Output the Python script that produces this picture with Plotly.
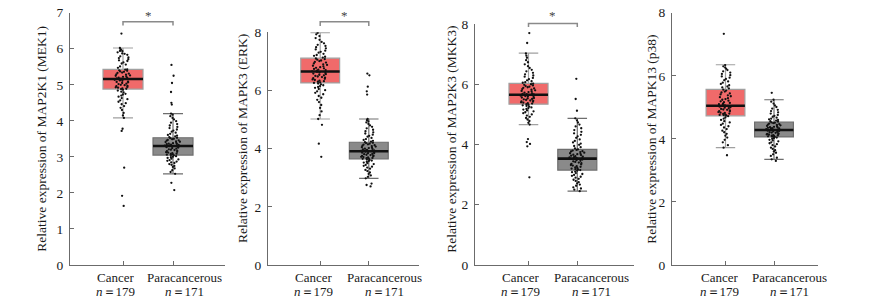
import plotly.graph_objects as go

W, H = 869, 306

# ---------------- data ----------------
categories = ["Cancer", "Paracancerous"]
n_counts = ["179", "171"]
genes = ["MAP2K1 (MEK1)", "MAPK3 (ERK)", "MAP2K3 (MKK3)", "MAPK13 (p38)"]
y_max = [7, 8, 8, 8]
y_dtick = [1, 2, 2, 2]
significant = [True, True, True, False]

# box statistics per panel: [Cancer, Paracancerous]
q1 = [[4.88, 3.05], [6.26, 3.65], [5.34, 3.15], [4.73, 4.06]]
median = [[5.16, 3.30], [6.65, 3.91], [5.65, 3.53], [5.05, 4.28]]
q3 = [[5.43, 3.53], [7.11, 4.22], [6.03, 3.84], [5.57, 4.53]]
lowerfence = [[4.08, 2.53], [5.02, 2.98], [4.66, 2.45], [3.72, 3.35]]
upperfence = [[6.02, 4.20], [7.99, 5.02], [7.03, 4.87], [6.35, 5.24]]

# sample values (estimated from the jittered points)
mek1_cancer = [6.42, 6.02, 5.99, 5.97, 5.94, 5.93, 5.9, 5.87, 5.86, 5.83, 5.79, 5.76, 5.74, 5.71, 5.68, 5.66,
               5.62, 5.59, 5.56, 5.51, 5.47, 5.43, 5.42, 5.4, 5.39, 5.37, 5.36, 5.34, 5.33, 5.31, 5.29, 5.28,
               5.26, 5.25, 5.23, 5.22, 5.2, 5.19, 5.18, 5.17, 5.16, 5.15, 5.14, 5.12, 5.11, 5.09, 5.08, 5.07,
               5.05, 5.03, 5.02, 5.0, 4.99, 4.97, 4.96, 4.94, 4.93, 4.92, 4.9, 4.89, 4.88, 4.86, 4.84, 4.81,
               4.79, 4.75, 4.73, 4.7, 4.67, 4.63, 4.6, 4.57, 4.53, 4.49, 4.46, 4.41, 4.36, 4.3, 4.22, 4.15,
               4.08, 3.78, 3.72, 2.70, 1.92, 1.64]
mek1_para = [5.55, 5.25, 5.05, 4.80, 4.50, 4.45, 4.2, 4.17, 4.13, 4.08, 4.04, 3.99, 3.95, 3.91, 3.87, 3.83,
             3.8, 3.76, 3.73, 3.7, 3.67, 3.64, 3.61, 3.59, 3.57, 3.55, 3.53, 3.52, 3.5, 3.49, 3.47, 3.46,
             3.45, 3.43, 3.42, 3.41, 3.39, 3.38, 3.37, 3.36, 3.35, 3.34, 3.33, 3.32, 3.31, 3.3, 3.29, 3.28,
             3.27, 3.26, 3.24, 3.23, 3.21, 3.2, 3.19, 3.17, 3.16, 3.14, 3.13, 3.12, 3.1, 3.09, 3.08, 3.07,
             3.06, 3.05, 3.04, 3.02, 3.0, 2.99, 2.97, 2.95, 2.93, 2.91, 2.89, 2.87, 2.85, 2.83, 2.8, 2.78,
             2.75, 2.72, 2.68, 2.63, 2.58, 2.53, 2.28, 2.08]
erk_cancer = [7.98, 7.93, 7.87, 7.8, 7.74, 7.67, 7.62, 7.57, 7.53, 7.49, 7.45, 7.41, 7.37, 7.33, 7.3, 7.26,
              7.22, 7.19, 7.16, 7.13, 7.1, 7.08, 7.06, 7.03, 7.01, 6.98, 6.96, 6.93, 6.9, 6.88, 6.85, 6.83,
              6.8, 6.78, 6.76, 6.74, 6.72, 6.7, 6.68, 6.66, 6.64, 6.62, 6.6, 6.58, 6.56, 6.54, 6.52, 6.5,
              6.48, 6.46, 6.44, 6.42, 6.4, 6.38, 6.36, 6.34, 6.32, 6.3, 6.28, 6.26, 6.24, 6.21, 6.18, 6.15,
              6.12, 6.09, 6.05, 6.01, 5.97, 5.92, 5.87, 5.81, 5.75, 5.68, 5.6, 5.5, 5.4, 5.28, 5.15, 5.02,
              4.82, 4.17, 3.72]
erk_para = [6.58, 6.52, 6.13, 5.97, 5.86, 5.02, 4.98, 4.94, 4.9, 4.85, 4.8, 4.75, 4.7, 4.65, 4.6, 4.56,
            4.52, 4.48, 4.44, 4.41, 4.37, 4.33, 4.3, 4.27, 4.24, 4.22, 4.2, 4.19, 4.17, 4.15, 4.14, 4.12,
            4.1, 4.09, 4.07, 4.05, 4.04, 4.02, 4.0, 3.99, 3.97, 3.96, 3.94, 3.93, 3.92, 3.9, 3.89, 3.88,
            3.86, 3.85, 3.84, 3.82, 3.81, 3.79, 3.78, 3.76, 3.75, 3.74, 3.72, 3.71, 3.7, 3.68, 3.67, 3.66,
            3.65, 3.63, 3.61, 3.59, 3.57, 3.55, 3.52, 3.5, 3.47, 3.44, 3.41, 3.38, 3.35, 3.31, 3.27, 3.23,
            3.18, 3.13, 3.08, 3.03, 2.98, 2.80, 2.75, 2.70]
mkk3_cancer = [7.70, 7.37, 7.02, 6.95, 6.88, 6.8, 6.73, 6.66, 6.6, 6.54, 6.48, 6.43, 6.38, 6.33, 6.29, 6.25,
               6.21, 6.17, 6.13, 6.1, 6.07, 6.05, 6.02, 6.0, 5.98, 5.96, 5.94, 5.92, 5.9, 5.88, 5.86, 5.84,
               5.82, 5.8, 5.78, 5.76, 5.74, 5.72, 5.7, 5.68, 5.67, 5.66, 5.64, 5.62, 5.61, 5.59, 5.58, 5.56,
               5.54, 5.53, 5.51, 5.5, 5.48, 5.46, 5.45, 5.43, 5.42, 5.4, 5.39, 5.37, 5.36, 5.34, 5.32, 5.3,
               5.28, 5.26, 5.23, 5.21, 5.18, 5.16, 5.13, 5.1, 5.07, 5.04, 5.0, 4.96, 4.92, 4.88, 4.83, 4.78,
               4.72, 4.66, 4.18, 4.08, 4.02, 3.94, 2.91]
mkk3_para = [6.18, 5.51, 5.12, 4.87, 4.8, 4.73, 4.66, 4.6, 4.54, 4.48, 4.42, 4.37, 4.32, 4.27, 4.22, 4.17,
             4.12, 4.07, 4.03, 3.99, 3.95, 3.91, 3.87, 3.84, 3.82, 3.8, 3.78, 3.77, 3.75, 3.73, 3.71, 3.69,
             3.68, 3.66, 3.65, 3.63, 3.61, 3.6, 3.58, 3.57, 3.56, 3.55, 3.54, 3.52, 3.5, 3.48, 3.46, 3.44,
             3.42, 3.4, 3.38, 3.36, 3.34, 3.32, 3.3, 3.28, 3.26, 3.24, 3.22, 3.2, 3.18, 3.17, 3.15, 3.13,
             3.1, 3.08, 3.05, 3.02, 2.99, 2.96, 2.93, 2.9, 2.86, 2.83, 2.79, 2.75, 2.71, 2.67, 2.63, 2.58,
             2.54, 2.5, 2.45]
p38_cancer = [7.33, 6.34, 6.3, 6.26, 6.22, 6.18, 6.14, 6.1, 6.06, 6.02, 5.98, 5.94, 5.9, 5.86, 5.82, 5.78,
              5.74, 5.7, 5.66, 5.63, 5.6, 5.56, 5.53, 5.5, 5.47, 5.44, 5.41, 5.38, 5.35, 5.32, 5.29, 5.26,
              5.24, 5.21, 5.19, 5.16, 5.14, 5.12, 5.1, 5.08, 5.06, 5.04, 5.02, 5.0, 4.99, 4.97, 4.95, 4.93,
              4.92, 4.9, 4.88, 4.87, 4.85, 4.83, 4.82, 4.8, 4.79, 4.77, 4.76, 4.75, 4.74, 4.72, 4.68, 4.64,
              4.6, 4.56, 4.52, 4.48, 4.44, 4.4, 4.36, 4.31, 4.26, 4.21, 4.16, 4.1, 4.04, 3.97, 3.89, 3.8,
              3.72, 3.48]
p38_para = [5.46, 5.24, 5.18, 5.12, 5.06, 5.01, 4.96, 4.92, 4.88, 4.84, 4.8, 4.76, 4.73, 4.7, 4.67, 4.64,
            4.62, 4.6, 4.58, 4.56, 4.55, 4.52, 4.51, 4.5, 4.48, 4.47, 4.45, 4.44, 4.43, 4.41, 4.4, 4.38,
            4.37, 4.36, 4.35, 4.34, 4.33, 4.32, 4.31, 4.3, 4.29, 4.27, 4.26, 4.25, 4.24, 4.22, 4.21, 4.2,
            4.19, 4.17, 4.16, 4.15, 4.14, 4.13, 4.12, 4.11, 4.1, 4.09, 4.08, 4.07, 4.06, 4.04, 4.02, 4.0,
            3.97, 3.95, 3.92, 3.89, 3.86, 3.83, 3.8, 3.76, 3.72, 3.68, 3.64, 3.6, 3.56, 3.51, 3.46, 3.4,
            3.35, 3.30]

samples = [[mek1_cancer, mek1_para], [erk_cancer, erk_para],
           [mkk3_cancer, mkk3_para], [p38_cancer, p38_para]]

# ---------------- layout geometry (window pixels) ----------------
# axis x0, axis x1, pixel of y_max, pixel of Cancer, pixel spacing between groups
panel_px = [(70, 225, 12.7, 123.0, 50.0),
            (268, 419, 32.3, 320.2, 48.6),
            (475, 634, 24.0, 528.5, 48.8),
            (672, 818, 12.7, 725.5, 48.5)]
# horizontal centres of the category labels
label_px = [(115.0, 184.7), (313.7, 384.2), (520.8, 591.2), (719.0, 789.5)]
y0_px = 265
title_x_px = [41.7, 243.0, 451.7, 651.7]
title_y_px = 139
bracket_px = [(21.7, 25.5), (21.7, 26.0), (23.5, 27.0), None]
star_px = 15
cat_line_px = 277.5
n_line_px = 291.0

FONT = "Liberation Serif"
TXT = "#1a1a1a"
AXC = "#6b6b6b"
fills = ["#F06A6A", "#8A8A8A"]
edges = ["#A0A0A0", "#6E6E6E"]
BOXW = 0.8


def fx(px):
    return px / W


def fy(py):
    return 1 - py / H


fig = go.Figure()
shapes, annotations = [], []

for i in range(4):
    ax = "" if i == 0 else str(i + 1)
    x0, x1, ytop, cpx, sp = panel_px[i]
    r0, r1 = (x0 - cpx) / sp, (x1 - cpx) / sp
    for j in range(2):
        # box with whiskers
        fig.add_trace(go.Box(
            x=[j], q1=[q1[i][j]], median=[median[i][j]], q3=[q3[i][j]],
            lowerfence=[lowerfence[i][j]], upperfence=[upperfence[i][j]],
            fillcolor=fills[j], line=dict(color=edges[j], width=1.2),
            whiskerwidth=0.5, width=BOXW, boxpoints=False,
            xaxis="x" + ax, yaxis="y" + ax, showlegend=False, hoverinfo="skip"))
        # thick black median line
        fig.add_trace(go.Box(
            x=[j], q1=[median[i][j]], median=[median[i][j]], q3=[median[i][j]],
            lowerfence=[median[i][j]], upperfence=[median[i][j]],
            fillcolor="rgba(0,0,0,0)", line=dict(color="#111111", width=2.6),
            whiskerwidth=0, width=BOXW, boxpoints=False,
            xaxis="x" + ax, yaxis="y" + ax, showlegend=False, hoverinfo="skip"))
        # jittered sample points
        vals = samples[i][j]
        fig.add_trace(go.Box(
            x=[j] * len(vals), y=vals, boxpoints="all", jitter=0.42, pointpos=0,
            fillcolor="rgba(0,0,0,0)", line=dict(color="rgba(0,0,0,0)", width=0),
            marker=dict(color="#111111", size=2.3), width=BOXW,
            xaxis="x" + ax, yaxis="y" + ax, showlegend=False))

    fig.update_layout(**{
        "xaxis" + ax: dict(domain=[fx(x0), fx(x1)], range=[r0, r1], anchor="y" + ax,
                           tickvals=[0, 1], showticklabels=False, ticks="inside", ticklen=4,
                           tickcolor=AXC, showline=True, linecolor=AXC, linewidth=1,
                           showgrid=False, zeroline=False, automargin=False),
        "yaxis" + ax: dict(domain=[fy(y0_px), fy(ytop)], range=[0, y_max[i]], anchor="x" + ax,
                           dtick=y_dtick[i], tick0=0, ticks="inside", ticklen=4, tickcolor=AXC,
                           showline=True, linecolor=AXC, linewidth=1, showgrid=False,
                           zeroline=False, ticklabelstandoff=3, automargin=False,
                           ticklabeloverflow="allow",
                           tickfont=dict(family=FONT, size=13.5, color=TXT)),
    })

    # y-axis title
    annotations.append(dict(text="Relative expression of " + genes[i], xref="paper", yref="paper",
                            x=fx(title_x_px[i]), y=fy(title_y_px), textangle=-90,
                            xanchor="center", yanchor="middle", showarrow=False,
                            font=dict(family=FONT, size=13.5, color=TXT)))
    # category labels and n = labels
    for j in range(2):
        annotations.append(dict(text=categories[j], xref="paper", yref="paper",
                                x=fx(label_px[i][j]), y=fy(cat_line_px), xanchor="center",
                                yanchor="middle", showarrow=False, height=13,
                                font=dict(family=FONT, size=13, color=TXT)))
        annotations.append(dict(text="<i>n</i>＝" + n_counts[j], xref="paper", yref="paper",
                                x=fx(label_px[i][j]), y=fy(n_line_px), xanchor="center",
                                yanchor="middle", showarrow=False, height=13,
                                font=dict(family=FONT, size=13, color=TXT)))
    # significance bracket
    if significant[i]:
        yb, yt = bracket_px[i]
        d0, d1 = (0 - r0) / (r1 - r0), (1 - r0) / (r1 - r0)
        shapes.append(dict(type="path", xref="x" + ax + " domain", yref="paper",
                           path=f"M {d0} {fy(yt)} L {d0} {fy(yb)} L {d1} {fy(yb)} L {d1} {fy(yt)}",
                           line=dict(color="#8a8a8a", width=1.5)))
        annotations.append(dict(text="*", xref="x" + ax, yref="paper", x=0.5, y=fy(star_px),
                                xanchor="center", yanchor="middle", showarrow=False, height=10,
                                font=dict(family=FONT, size=13, color="#444444")))

fig.update_layout(width=W, height=H,
                  margin=dict(l=0, r=0, t=0, b=0, pad=0, autoexpand=False),
                  paper_bgcolor="white", plot_bgcolor="white", boxmode="overlay",
                  shapes=shapes, annotations=annotations, showlegend=False)

# remove the browser's default body margin so the figure fills the window
fig.write_html("out.html", config={"displayModeBar": False},
               post_script="document.body.style.margin='0px';")
